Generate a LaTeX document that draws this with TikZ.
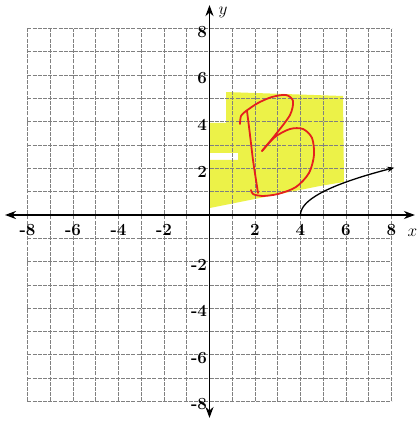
\documentclass[tikz,border=0pt]{standalone}
\usetikzlibrary{arrows.meta}
\definecolor{hl}{RGB}{236,242,72}
\definecolor{pen}{RGB}{228,32,30}
\begin{document}
\begin{tikzpicture}[x=22.75pt,y=23.3pt,
  gridline/.style={black!50,line width=0.8pt,dash pattern=on 4pt off 1.2pt},
  axis/.style={line width=1.8pt,{Stealth[length=11pt,width=8pt]}-{Stealth[length=11pt,width=8pt]}},
  lbl/.style={font=\fontsize{17}{19}\selectfont\bfseries,inner sep=0pt},
  penline/.style={pen,line width=1.8pt,line cap=round,line join=round}]
\useasboundingbox (-209.5pt,-207pt) rectangle (207.5pt,215pt);
% highlighter
\begin{scope}[x=1pt,y=-1pt,shift={(-209.5pt,215pt)}]
\fill[hl] (226,92) -- (343,96) -- (344,182) -- (320,186) -- (290,192) -- (250,200) -- (230,204) -- (210,208)
  -- (210,160) -- (238,160) -- (238,153) -- (210,153) -- (210,123) -- (226,123) -- cycle;
\end{scope}
% grid
\foreach \i in {-8,...,8} {
  \draw[gridline] (\i,-8) -- (\i,8);
  \draw[gridline] (-8,\i) -- (8,\i);
}
% axes
\coordinate (xl) at (-8.99,0);
\coordinate (xr) at (9.03,0);
\coordinate (yb) at (0,-8.71);
\coordinate (yt) at (0,9.01);
\draw[axis] (xl) -- (xr);
\draw[axis] (yb) -- (yt);
% labels
\foreach \k [count=\n] in {-8,-6,-4,-2,2,4,6,8} {
  \node[lbl] (xlab\n) at (\k,-0.64) {\k};
  \node[lbl,anchor=east] (ylab\n) at (-0.1,{\k-0.13}) {\k};
}
\node[lbl,font=\fontsize{18}{20}\selectfont] (xname) at (8.92,-0.76) {$x$};
\node[lbl,font=\fontsize{18}{20}\selectfont] (yname) at (0.6,8.68) {$y$};
% curve
\draw[line width=1.3pt,-{Stealth[length=7pt,width=5.5pt]}] plot[domain=0:2.03,samples=50,smooth] ({\x*\x+4},\x);
% red B
\begin{scope}[x=1pt,y=-1pt,shift={(-209.5pt,215pt)}]
\draw[penline] plot[smooth] coordinates {(240,124) (241,116) (246,111)};
\draw[penline] plot[smooth] coordinates {(247,111) (250,135) (253,160) (256,180) (258,193)};
\draw[penline] plot[smooth] coordinates {(246,111) (258,103) (272,97) (286,95) (293,101) (290,115) (276,134) (262,151)};
\draw[penline] plot[smooth] coordinates {(262,151) (275,137) (290,129) (303,129) (312,138) (314,155) (309,173) (296,187) (278,194) (262,196) (253,194) (251,190)};
\end{scope}
\end{tikzpicture}
\end{document}
